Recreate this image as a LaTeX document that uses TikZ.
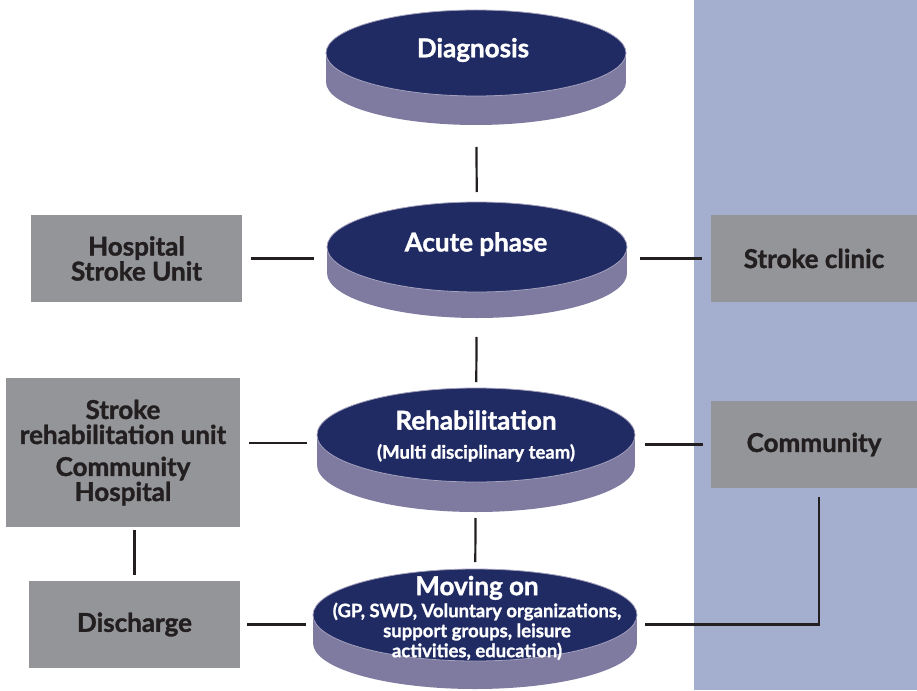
\documentclass[tikz,border=0pt]{standalone}
\usepackage{fontspec}
\setmainfont{Lato}[BoldFeatures={FakeBold=1.3}]
\usetikzlibrary{shapes.geometric,calc}
\definecolor{navy}{HTML}{212B63}
\definecolor{sidec}{HTML}{7E7AA0}
\definecolor{boxg}{HTML}{939598}
\definecolor{panel}{HTML}{A4AECF}
\definecolor{ink}{HTML}{231F20}
\newcommand\mydiscbase[5]{%
  \fill[sidec] (#1,#2+#5) ellipse [x radius=#3, y radius=#4];
  \fill[sidec] (#1-#3,#2) rectangle (#1+#3,#2+#5);}
\newcommand\smtext{\fontsize{18.5}{19.5}\selectfont}
\begin{document}
\begin{tikzpicture}[x=1pt,y=-1pt,
  disc/.style={ellipse, fill=navy, draw=sidec!70, line width=0.8pt, inner sep=0pt},
  disctext/.style={inner sep=0pt, text=white,
    font=\bfseries\fontsize{26}{25}\selectfont, align=center},
  box/.style={rectangle, fill=boxg, inner sep=0pt, text=ink,
    font=\bfseries\fontsize{26}{25}\selectfont, align=center},
  link/.style={line width=2.2pt, draw=ink}]
\useasboundingbox (0,0) rectangle (917,690);
\fill[panel] (694,0) rectangle (917,690);

% disc bodies
\mydiscbase{476}{53}{150}{43}{29}
\mydiscbase{477}{247}{150}{45}{26}
\mydiscbase{476}{435}{159}{47}{30}
\mydiscbase{475}{615}{162}{46}{28}

% disc tops
\node[disc, minimum width=300pt, minimum height=86pt] (diag) at (476,53) {};
\node[disc, minimum width=300pt, minimum height=90pt] (acute) at (477,247) {};
\node[disc, minimum width=318pt, minimum height=94pt] (rehab) at (476,435) {};
\node[disc, minimum width=324pt, minimum height=92pt] (moving) at (475,615) {};

\node[disctext] (diagt) at (473,50) {Diagnosis};
\node[disctext] (acutet) at (476,244) {Acute phase};
\node[disctext] (rehabt) at (476,436)
  {Rehabilitation\\[4pt]\smtext (Multi disciplinary team)};
\node[disctext] (movingt) at (477,618)
  {Moving on\\[-3pt]\smtext (GP, SWD, Voluntary organizations,\\[-5pt]\smtext support groups, leisure\\[-5pt]\smtext activities, education)};

% boxes
\node[box, minimum width=211pt, minimum height=87pt] (hsu) at (136.5,258.5) {Hospital\\Stroke Unit};
\node[box, minimum width=206pt, minimum height=87pt] (clinic) at (814,258.5) {Stroke clinic};
\node[box, minimum width=234pt, minimum height=149pt] (sru) at (123,452.5)
  {Stroke\\rehabilitation unit\\[7pt]Community\\Hospital};
\node[box, minimum width=206pt, minimum height=87pt] (comm) at (814,444.5) {Community};
\node[box, minimum width=211pt, minimum height=87pt] (dis) at (134.5,624.5) {Discharge};

% connectors
\draw[link, shorten <=94pt, shorten >=55pt] (diag.center) -- (acute.center);
\draw[link, shorten <=90pt, shorten >=53pt] (acute.center) -- (rehab.center);
\draw[link, shorten <=83pt, shorten >=53pt] (rehab.center) -- (moving.center);
\draw[link, shorten <=9pt, shorten >=13pt] (hsu.east) -- (hsu.east -| acute.west);
\draw[link, shorten <=13pt, shorten >=9pt] (acute.east |- clinic.west) -- (clinic.west);
\draw[link, shorten <=9pt, shorten >=10pt] (sru.east |- 0,443) -- (rehab.west |- 0,443);
\draw[link, shorten <=10pt, shorten >=8pt] (rehab.east |- comm.west) -- (comm.west);
\draw[link, shorten <=7pt, shorten >=7pt] (dis.east) -- (dis.east -| moving.west);
\draw[link, shorten <=3pt, shorten >=6pt] (dis.north |- sru.south) -- (dis.north);
\draw[link] ($(moving.east |- dis.east)+(8,0)$) -| ($(comm.south)+(5,9)$);
\end{tikzpicture}
\end{document}
